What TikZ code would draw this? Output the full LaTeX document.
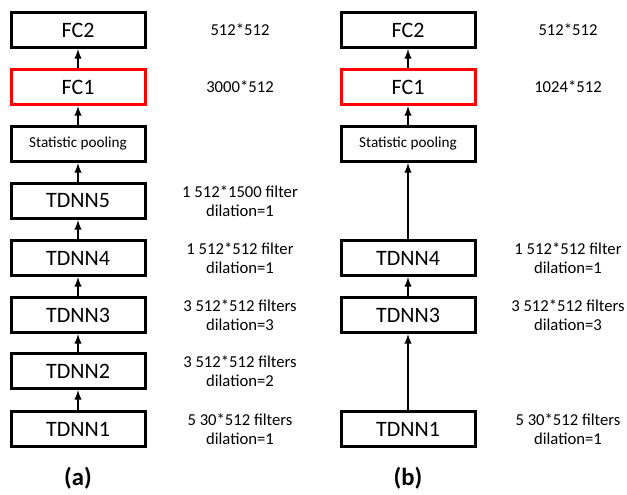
\documentclass[tikz,border=0pt]{standalone}
\usepackage{fontspec}
\setmainfont{Carlito}

\begin{document}
\begin{tikzpicture}[x=0.75pt,y=-0.75pt,
		layer/.style={draw,line width=2.25pt,minimum width=100.5pt,minimum height=26.25pt,inner sep=0pt,font=\fontsize{16.5}{19}\selectfont},
		info/.style={align=center,font=\fontsize{12.5}{14.5}\selectfont},
		link/.style={-latex,line width=1.5pt},
		caption/.style={font=\fontsize{18.5}{22}\selectfont\bfseries}]

		\useasboundingbox (0,0) rectangle (627,494);

		\node[layer] (fc2a) at (78,30) {FC2};
		\node[layer,draw=red] (fc1a) at (78,87) {FC1};
		\node[layer,font=\fontsize{11.4}{13}\selectfont] (poola) at (78,144) {Statistic pooling};
		\node[layer] (tdnn5a) at (78,201) {TDNN5};
		\node[layer] (tdnn4a) at (78,258) {TDNN4};
		\node[layer] (tdnn3a) at (78,315) {TDNN3};
		\node[layer] (tdnn2a) at (78,371) {TDNN2};
		\node[layer] (tdnn1a) at (78,429) {TDNN1};

		\draw[link] (tdnn1a.north) -- (tdnn2a.south);
		\draw[link] (tdnn2a.north) -- (tdnn3a.south);
		\draw[link] (tdnn3a.north) -- (tdnn4a.south);
		\draw[link] (tdnn4a.north) -- (tdnn5a.south);
		\draw[link] (tdnn5a.north) -- (poola.south);
		\draw[link] (poola.north) -- (fc1a.south);
		\draw[link] (fc1a.north) -- (fc2a.south);

		\node[info] (infofc2a) at (240,30) {512*512};
		\node[info] (infofc1a) at (240,87) {3000*512};
		\node[info] (info5a) at (240,201) {1 512*1500 filter\\dilation=1};
		\node[info] (info4a) at (240,258) {1 512*512 filter\\dilation=1};
		\node[info] (info3a) at (240,315) {3 512*512 filters\\dilation=3};
		\node[info] (info2a) at (240,371) {3 512*512 filters\\dilation=2};
		\node[info] (info1a) at (240,429) {5 30*512 filters\\dilation=1};

		\node[caption] (capa) at (78,478) {(a)};

		\node[layer] (fc2b) at (408,30) {FC2};
		\node[layer,draw=red] (fc1b) at (408,87) {FC1};
		\node[layer,font=\fontsize{11.4}{13}\selectfont] (poolb) at (408,144) {Statistic pooling};
		\node[layer] (tdnn4b) at (408,258) {TDNN4};
		\node[layer] (tdnn3b) at (408,315) {TDNN3};
		\node[layer] (tdnn1b) at (408,429) {TDNN1};

		\draw[link] (tdnn1b.north) -- (tdnn3b.south);
		\draw[link] (tdnn3b.north) -- (tdnn4b.south);
		\draw[link] (tdnn4b.north) -- (poolb.south);
		\draw[link] (poolb.north) -- (fc1b.south);
		\draw[link] (fc1b.north) -- (fc2b.south);

		\node[info] (infofc2b) at (568,30) {512*512};
		\node[info] (infofc1b) at (568,87) {1024*512};
		\node[info] (info4b) at (568,258) {1 512*512 filter\\dilation=1};
		\node[info] (info3b) at (568,315) {3 512*512 filters\\dilation=3};
		\node[info] (info1b) at (568,429) {5 30*512 filters\\dilation=1};

		\node[caption] (capb) at (408,478) {(b)};
	\end{tikzpicture}
\end{document}
